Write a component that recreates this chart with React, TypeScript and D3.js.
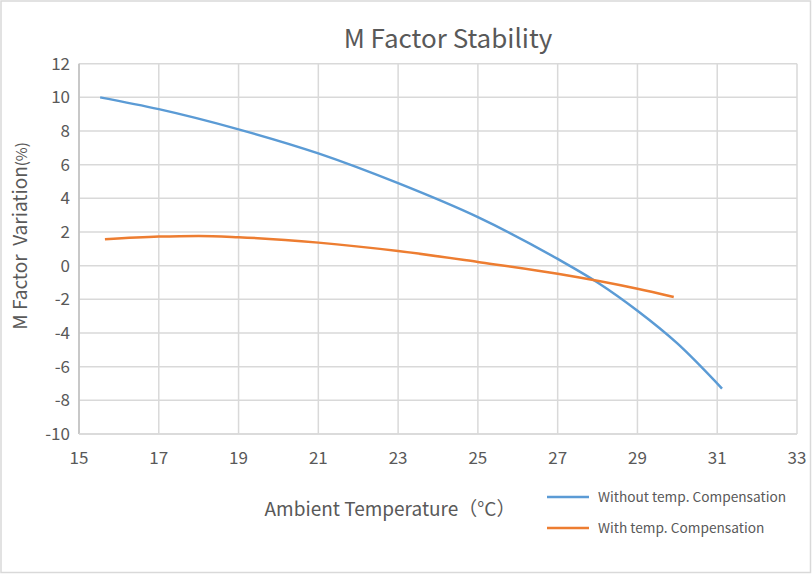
import React from "react";
import * as d3 from "d3";

const xTicks = [15, 17, 19, 21, 23, 25, 27, 29, 31, 33];
const yTicks = [-10, -8, -6, -4, -2, 0, 2, 4, 6, 8, 10, 12];

const withoutX = [15.53, 17, 19, 21, 23, 25, 27, 28, 29, 30, 31.12];
const withoutY = [10.0, 9.3, 8.1, 6.67, 4.9, 2.88, 0.4, -1.0, -2.68, -4.62, -7.3];

const withX = [15.65, 17, 18, 19, 21, 23, 25, 27, 29, 29.91];
const withY = [1.57, 1.73, 1.77, 1.69, 1.37, 0.87, 0.22, -0.48, -1.37, -1.86];

const seriesNames = ["Without temp. Compensation", "With temp. Compensation"];
const colors = ["#5B9BD5", "#ED7D31"];

const W = 812;
const H = 574;
const FONT = "'Noto Sans CJK SC', 'Noto Sans', sans-serif";

export default function App() {
  const x = d3.scaleLinear().domain([15, 33]).range([79, 797]);
  const y = d3.scaleLinear().domain([-10, 12]).range([434, 63.7]);
  const line = d3
    .line<[number, number]>()
    .x((d) => x(d[0]))
    .y((d) => y(d[1]))
    .curve(d3.curveMonotoneX);

  const s1 = withoutX.map((v, i) => [v, withoutY[i]] as [number, number]);
  const s2 = withX.map((v, i) => [v, withY[i]] as [number, number]);

  return (
    <svg
      width={W}
      height={H}
      style={{ position: "absolute", left: 0, top: 0, background: "#fff" }}
      fontFamily={FONT}
    >
      <rect x={1} y={1} width={809.5} height={571.5} fill="#fff" stroke="#d9d9d9" strokeWidth={1.5} />
      <text x={448} y={48} textAnchor="middle" fontSize={26} fill="#595959">
        M Factor Stability
      </text>
      {/* grid */}
      {yTicks.map((t) => (
        <line key={"gy" + t} x1={x(15)} x2={x(33)} y1={y(t)} y2={y(t)} stroke="#d9d9d9" strokeWidth={1.5} />
      ))}
      {xTicks.map((t) => (
        <line key={"gx" + t} x1={x(t)} x2={x(t)} y1={y(12)} y2={y(-10)} stroke="#d9d9d9" strokeWidth={1.5} />
      ))}
      <line x1={x(15)} x2={x(15)} y1={y(12)} y2={y(-10)} stroke="#bfbfbf" strokeWidth={1.5} />
      <line x1={x(15)} x2={x(33)} y1={y(-10)} y2={y(-10)} stroke="#d9d9d9" strokeWidth={1.5} />
      {/* tick labels */}
      {yTicks.map((t) => (
        <text key={"ty" + t} x={70} y={y(t) + 6} textAnchor="end" fontSize={17} fill="#595959">
          {t}
        </text>
      ))}
      {xTicks.map((t) => (
        <text key={"tx" + t} x={x(t)} y={464} textAnchor="middle" fontSize={17} fill="#595959">
          {t}
        </text>
      ))}
      {/* series */}
      <path d={line(s1) || ""} fill="none" stroke={colors[0]} strokeWidth={2.5} />
      <path d={line(s2) || ""} fill="none" stroke={colors[1]} strokeWidth={2.5} />
      {/* axis titles */}
      <text
        transform="translate(27,236) rotate(-90)"
        textAnchor="middle"
        fontSize={19}
        fill="#595959"
      >
        {"M Factor\u00a0 Variation"}
        <tspan fontSize={15}>(%)</tspan>
      </text>
      <text x={390} y={516} textAnchor="middle" fontSize={19} fill="#595959">
        Ambient Temperature（°C）
      </text>
      {/* legend */}
      {seriesNames.map((n, i) => (
        <g key={n} transform={`translate(0,${497 + i * 31})`}>
          <line x1={547} x2={589} y1={0} y2={0} stroke={colors[i]} strokeWidth={2.5} />
          <text x={598} y={5} fontSize={13.7} fill="#595959">
            {n}
          </text>
        </g>
      ))}
    </svg>
  );
}
